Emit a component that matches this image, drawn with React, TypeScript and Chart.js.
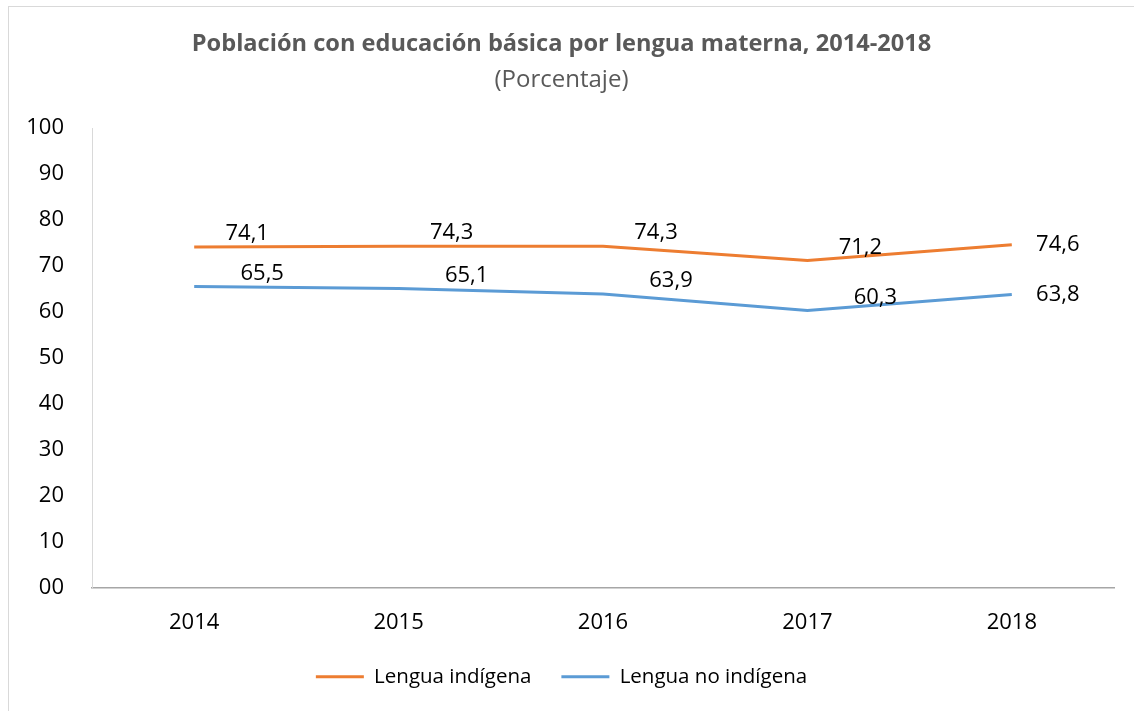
import React, { useEffect, useRef } from "react";
import { Chart, registerables } from "chart.js";

Chart.register(...registerables);

const years = ["2014", "2015", "2016", "2017", "2018"];
const indigena = [74.1, 74.3, 74.3, 71.2, 74.6];
const noIndigena = [65.5, 65.1, 63.9, 60.3, 63.8];
const seriesNames = ["Lengua indígena", "Lengua no indígena"];
const titleText = "Población con educación básica por lengua materna, 2014-2018";
const subtitleText = "(Porcentaje)";

const FONT = "'Open Sans', sans-serif";
const ORANGE = "#ED7D31";
const BLUE = "#5B9BD5";

const labelPlugin = {
  id: "pointLabels",
  afterDatasetsDraw(chart: any) {
    const ctx = chart.ctx;
    ctx.save();
    ctx.font = `22px ${FONT}`;
    ctx.fillStyle = "#000000";
    ctx.textAlign = "center";
    ctx.textBaseline = "middle";
    chart.data.datasets.forEach((ds: any, di: number) => {
      const meta = chart.getDatasetMeta(di);
      meta.data.forEach((pt: any, i: number) => {
        const v = ds.data[i];
        const txt = v.toFixed(1).replace(".", ",");
        const last = i === meta.data.length - 1;
        const dx = last ? 46 : di === 0 ? 53 : 68;
        const dy = last ? 0 : -13;
        ctx.fillText(txt, pt.x + dx, pt.y + dy);
      });
    });
    ctx.restore();
  },
};

export default function App() {
  const ref = useRef<HTMLCanvasElement>(null);
  useEffect(() => {
    if (!ref.current) return;
    const chart = new Chart(ref.current, {
      type: "line",
      data: {
        labels: years,
        datasets: [
          {
            label: seriesNames[0],
            data: indigena,
            borderColor: ORANGE,
            backgroundColor: ORANGE,
            borderWidth: 3,
            pointRadius: 0,
            tension: 0,
          },
          {
            label: seriesNames[1],
            data: noIndigena,
            borderColor: BLUE,
            backgroundColor: BLUE,
            borderWidth: 3,
            pointRadius: 0,
            tension: 0,
          },
        ],
      },
      options: {
        responsive: false,
        animation: false,
        layout: { padding: { left: 0, right: 20, top: 0, bottom: 14 } },
        plugins: {
          title: {
            display: true,
            text: titleText,
            color: "#595959",
            font: { family: FONT, size: 23.6, weight: "bold", lineHeight: 1.2 },
            padding: { top: 23, bottom: 4 },
          },
          subtitle: {
            display: true,
            text: subtitleText,
            color: "#595959",
            font: { family: FONT, size: 24, lineHeight: 1.2 },
            padding: { top: 3, bottom: 34 },
          },
          legend: {
            position: "bottom",
            labels: {
              color: "#000000",
              font: { family: FONT, size: 20.5 },
              boxWidth: 48,
              boxHeight: 3,
              padding: 30,
              generateLabels(chart: any) {
                const items = Chart.defaults.plugins.legend.labels.generateLabels(chart);
                return items.map((it: any) => ({ ...it, lineWidth: 0, fillStyle: it.strokeStyle }));
              },
            },
          },
          tooltip: { enabled: false },
        },
        scales: {
          x: {
            offset: true,
            grid: { display: false, drawTicks: false },
            border: { display: true, color: "#a6a6a6", width: 1.5 },
            ticks: { color: "#000000", font: { family: FONT, size: 22 }, padding: 22 },
            afterFit(scale: any) {
              scale.height = 49;
            },
          },
          y: {
            min: 0,
            max: 100,
            grid: { display: false, drawTicks: false },
            border: { display: true, color: "#d9d9d9", width: 1 },
            ticks: {
              stepSize: 10,
              color: "#000000",
              font: { family: FONT, size: 22 },
              padding: 28,
              callback: (v: any) => (v === 0 ? "00" : String(v)),
            },
            afterFit(scale: any) {
              scale.width = 83;
            },
          },
        },
      },
      plugins: [labelPlugin],
    });
    return () => chart.destroy();
  }, []);
  return (
    <div
      style={{
        position: "fixed",
        left: 8,
        top: 6,
        width: 1126,
        height: 705,
        borderLeft: "1px solid #d9d9d9",
        borderTop: "1px solid #d9d9d9",
        background: "#ffffff",
      }}
    >
      <canvas ref={ref} width={1125} height={704} style={{ display: "block" }} />
    </div>
  );
}
